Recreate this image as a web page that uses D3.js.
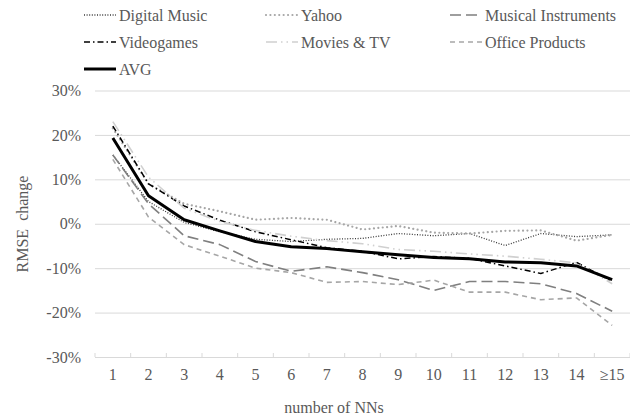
<!DOCTYPE html>
<html>
<head>
<meta charset="utf-8">
<script src="https://cdn.jsdelivr.net/npm/d3@7"></script>
<style>
  html, body { margin: 0; padding: 0; background: #fff; }
  svg { display: block; }
  text { font-family: "Liberation Serif", "Times New Roman", serif; fill: #595959; }
</style>
</head>
<body>
<svg id="chart" width="630" height="419"></svg>
<script>
// Number of nearest neighbours on the x axis
const categories = ["1", "2", "3", "4", "5", "6", "7", "8", "9", "10", "11", "12", "13", "14", "≥15"];
const yTicks = [-30, -20, -10, 0, 10, 20, 30];

// RMSE change (%) per dataset
const digitalMusic = [15.5, 5, 0.3, -1.8, -3.5, -4, -3.5, -3.3, -2.2, -2.7, -2.2, -4.9, -2.2, -2.9, -2.5];
const yahoo = [21.5, 9, 4.5, 2.8, 0.9, 1.3, 0.9, -1.3, -0.5, -2, -2.2, -1.6, -1.5, -3.8, -2.5];
const musicalInstruments = [15.5, 4.5, -2.7, -4.7, -8.5, -10.7, -9.7, -11, -12.6, -15, -13, -13, -13.5, -15.7, -19.7];
const videogames = [22, 9, 4, 0.8, -1.8, -3.6, -5.4, -6.2, -7.9, -7.4, -7.8, -9.5, -11.2, -8.7, -13];
const moviesTv = [23, 10.5, 3.5, 0.5, -1.5, -2.8, -3.8, -4.5, -5.8, -6.2, -6.8, -7.3, -8, -8.8, -13.5];
const officeProducts = [14.5, 1.5, -4.7, -7.3, -10, -11, -13.2, -13, -13.7, -12.7, -15.4, -15.4, -17.1, -16.7, -22.9];
const avg = [19.3, 6.3, 0.9, -1.6, -4, -5.2, -5.6, -6.3, -7, -7.6, -7.9, -8.6, -8.8, -9.5, -12.6];

const seriesNames = ["Digital Music", "Yahoo", "Musical Instruments", "Videogames", "Movies & TV", "Office Products", "AVG"];
const seriesValues = [digitalMusic, yahoo, musicalInstruments, videogames, moviesTv, officeProducts, avg];

// Line styles for each series
const styles = {
  "Digital Music":       { color: "#3a3a3a", width: 1.3, dash: "1 1.6", cap: "butt" },
  "Yahoo":               { color: "#a6a6a6", width: 2.2, dash: "0.01 4.4", cap: "round" },
  "Musical Instruments": { color: "#7f7f7f", width: 1.6, dash: "11 5", cap: "butt" },
  "Videogames":          { color: "#000000", width: 1.5, dash: "6 3 1.5 3", cap: "butt" },
  "Movies & TV":         { color: "#d0d0d0", width: 1.6, dash: "11 4 1.5 4 1.5 4", cap: "butt" },
  "Office Products":     { color: "#a6a6a6", width: 1.6, dash: "5 4", cap: "butt" },
  "AVG":                 { color: "#000000", width: 3, dash: null, cap: "butt" }
};

const FONT = 16;
const svg = d3.select("#chart");
const plot = { left: 95, right: 630, top: 90.5, bottom: 357 };

const x = d3.scaleBand().domain(categories).range([plot.left, plot.right]);
const y = d3.scaleLinear().domain([-30, 30]).range([plot.bottom, plot.top]);

// Horizontal gridlines with percentage labels
const yAxis = svg.append("g")
  .attr("transform", `translate(${plot.left},0)`)
  .call(d3.axisLeft(y).tickValues(yTicks).tickFormat(d => d + "%")
    .tickSize(-(plot.right - plot.left)).tickPadding(14));
yAxis.select(".domain").remove();
yAxis.selectAll(".tick line").attr("stroke", "#d9d9d9").attr("stroke-width", 1);
yAxis.selectAll(".tick text").attr("font-size", FONT).attr("fill", "#595959");

// Category axis
const xAxis = svg.append("g")
  .attr("transform", `translate(0,${plot.bottom})`)
  .call(d3.axisBottom(x).tickSize(0).tickPadding(12));
xAxis.select(".domain").attr("stroke", "#d9d9d9");
xAxis.selectAll(".tick text").attr("font-size", FONT).attr("fill", "#595959");

// Boundary tick marks between categories
const edges = categories.map(c => x(c)).concat([x(categories[categories.length - 1]) + x.bandwidth()]);
svg.append("g").selectAll("line").data(edges).join("line")
  .attr("x1", d => d).attr("x2", d => d)
  .attr("y1", plot.bottom - 4).attr("y2", plot.bottom)
  .attr("stroke", "#d9d9d9").attr("stroke-width", 1);

// Series lines
const line = d3.line()
  .x((d, i) => x(categories[i]) + x.bandwidth() / 2)
  .y(d => y(d));

svg.append("g").selectAll("path")
  .data(seriesNames.map((n, i) => ({ name: n, values: seriesValues[i] })))
  .join("path")
  .attr("d", d => line(d.values))
  .attr("fill", "none")
  .attr("stroke", d => styles[d.name].color)
  .attr("stroke-width", d => styles[d.name].width)
  .attr("stroke-dasharray", d => styles[d.name].dash)
  .attr("stroke-linecap", d => styles[d.name].cap)
  .attr("stroke-linejoin", "round");

// Legend
const legendPos = [
  { x: 84, y: 15 }, { x: 266, y: 15 }, { x: 450, y: 15 },
  { x: 84, y: 42 }, { x: 266, y: 42 }, { x: 450, y: 42 },
  { x: 84, y: 69 }
];
const legend = svg.append("g");
seriesNames.forEach((n, i) => {
  const p = legendPos[i];
  const s = styles[n];
  legend.append("line")
    .attr("x1", p.x).attr("x2", p.x + 32)
    .attr("y1", p.y).attr("y2", p.y)
    .attr("stroke", s.color).attr("stroke-width", s.width)
    .attr("stroke-dasharray", s.dash).attr("stroke-linecap", s.cap);
  legend.append("text")
    .attr("x", p.x + 35).attr("y", p.y).attr("dy", "0.35em")
    .attr("font-size", FONT).text(n);
});

// Axis titles
svg.append("text")
  .attr("transform", `translate(22,224) rotate(-90)`)
  .attr("text-anchor", "middle").attr("dy", "0.35em")
  .attr("font-size", FONT)
  .style("white-space", "pre")
  .text("RMSE  change");

svg.append("text")
  .attr("x", 334).attr("y", 407).attr("dy", "0.35em")
  .attr("text-anchor", "middle").attr("font-size", FONT)
  .text("number of NNs");
</script>
</body>
</html>
